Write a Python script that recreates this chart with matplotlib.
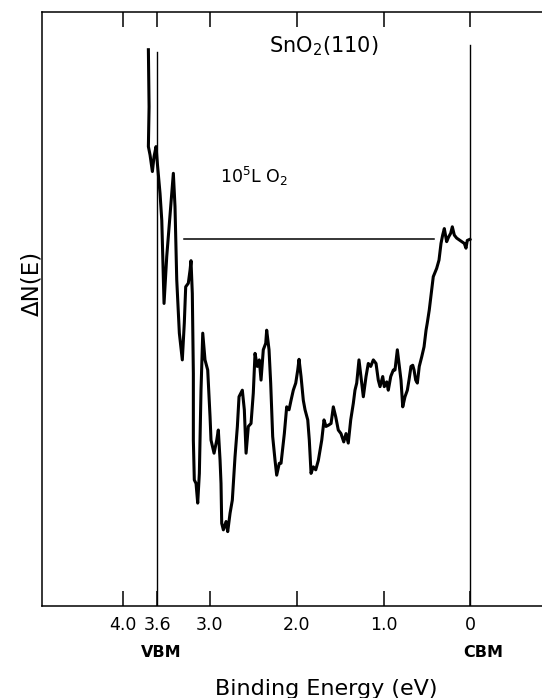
import numpy as np
import matplotlib
matplotlib.use("Agg")
import matplotlib.pyplot as plt

# binding energy (eV) and difference spectrum dN(E) in arbitrary units (0-100 full scale)
energy = [3.703, 3.695, 3.703, 3.684, 3.657, 3.638, 3.615, 3.600, 3.569, 3.549,
          3.523, 3.492, 3.446, 3.416, 3.397, 3.377, 3.347, 3.313, 3.290, 3.274,
          3.244, 3.224, 3.213, 3.198, 3.186, 3.186, 3.175, 3.155, 3.136, 3.117,
          3.098, 3.078, 3.052, 3.021, 2.994, 2.983, 2.948, 2.917, 2.899, 2.879,
          2.868, 2.860, 2.841, 2.810, 2.791, 2.764, 2.738, 2.707, 2.680, 2.661,
          2.623, 2.600, 2.580, 2.554, 2.523, 2.497, 2.477, 2.451, 2.428, 2.408,
          2.382, 2.354, 2.343, 2.316, 2.297, 2.274, 2.247, 2.228, 2.198, 2.178,
          2.140, 2.113, 2.086, 2.063, 2.037, 2.009, 1.986, 1.971, 1.948, 1.922,
          1.902, 1.871, 1.853, 1.833, 1.807, 1.779, 1.749, 1.710, 1.684, 1.661,
          1.634, 1.603, 1.577, 1.549, 1.520, 1.489, 1.457, 1.431, 1.405, 1.377,
          1.347, 1.328, 1.308, 1.282, 1.259, 1.232, 1.201, 1.175, 1.147, 1.117,
          1.086, 1.060, 1.040, 1.009, 0.991, 0.963, 0.945, 0.917, 0.887, 0.868,
          0.841, 0.818, 0.799, 0.779, 0.753, 0.726, 0.707, 0.684, 0.664, 0.649,
          0.630, 0.611, 0.589, 0.561, 0.534, 0.511, 0.497, 0.474, 0.446, 0.428,
          0.389, 0.362, 0.339, 0.320, 0.301, 0.274, 0.251, 0.228, 0.209, 0.186,
          0.159, 0.129, 0.101, 0.071, 0.052, 0.037, 0.006]
dN = [93.7, 84.1, 77.4, 76.0, 73.2, 75.7, 77.4, 74.6, 69.5, 65.0,
      51.0, 58.9, 67.3, 72.9, 67.3, 55.0, 46.0, 41.5, 47.7, 53.8,
      54.4, 56.6, 58.2, 52.7, 39.2, 28.0, 21.3, 20.7, 17.4, 22.4,
      36.4, 46.0, 41.5, 39.8, 31.9, 28.0, 25.8, 28.0, 29.7, 24.6,
      20.7, 14.0, 12.9, 14.3, 12.6, 15.7, 17.9, 25.2, 30.3, 35.3,
      36.4, 33.1, 25.8, 30.3, 30.8, 35.9, 42.6, 40.4, 41.5, 38.1,
      43.2, 44.3, 46.5, 43.2, 37.6, 28.6, 24.6, 22.1, 24.1, 24.1,
      29.1, 33.6, 33.1, 34.7, 36.4, 37.6, 39.8, 41.6, 38.7, 34.7,
      33.1, 31.4, 28.0, 22.4, 23.5, 23.0, 24.6, 28.0, 31.4, 30.3,
      30.5, 30.8, 33.6, 31.9, 29.7, 29.1, 27.7, 29.1, 27.5, 31.4,
      34.2, 36.4, 37.6, 41.5, 38.7, 35.3, 38.7, 40.9, 40.4, 41.5,
      40.9, 38.1, 37.0, 38.7, 37.0, 37.8, 36.4, 38.7, 39.8, 39.8,
      43.2, 40.4, 38.1, 33.6, 35.3, 36.4, 38.1, 40.4, 40.6, 39.8,
      38.1, 37.6, 40.4, 42.0, 43.7, 46.5, 47.7, 49.9, 53.3, 55.5,
      56.9, 58.3, 61.1, 62.5, 63.6, 61.4, 62.2, 62.8, 63.9, 62.5,
      62.0, 61.7, 61.4, 61.1, 60.3, 61.6, 61.8]

# reference level line and band edges
ref_level = 61.85
ref_start, ref_end = 3.29, 0.42
vbm, cbm = 3.6, 0.0
vbm_top, cbm_top = 93.3, 94.5

tick_pos = [4.0, 3.6, 3.0, 2.0, 1.0, 0.0]
tick_lab = ["4.0", "3.6", "3.0", "2.0", "1.0", "0"]

fig = plt.figure(figsize=(5.42, 6.98), dpi=100)
ax = fig.add_axes([0.077, 0.1311, 0.923, 0.8513])

ax.plot(energy, dN, color="black", lw=2.2, solid_joinstyle="round")
ax.plot([ref_start, ref_end], [ref_level, ref_level], color="black", lw=1.1)
ax.plot([vbm, vbm], [0, vbm_top], color="black", lw=1.0)
ax.plot([cbm, cbm], [0, cbm_top], color="black", lw=1.0)

ax.set_xlim(4.929, -0.822)
ax.set_ylim(0, 100)
ax.set_xticks(tick_pos)
ax.set_xticklabels(tick_lab, fontsize=12.5)
ax.set_yticks([])
ax.tick_params(axis="x", direction="in", length=11, width=1.1, top=True, pad=7)
for s in ["left", "bottom", "top"]:
    ax.spines[s].set_linewidth(1.1)
ax.spines["right"].set_visible(False)

ax.text(1.684, 94.3, "SnO$_2$(110)", fontsize=15, ha="center", va="center")
ax.text(2.49, 72.3, "10$^5$L O$_2$", fontsize=12.5, ha="center", va="center")

trans = ax.get_xaxis_transform()
ax.text(3.55, -0.077, "VBM", fontsize=11.5, fontweight="bold", ha="center", va="center", transform=trans)
ax.text(-0.15, -0.077, "CBM", fontsize=11.5, fontweight="bold", ha="center", va="center", transform=trans)

ax.set_xlabel("Binding Energy (eV)", fontsize=16)
ax.xaxis.set_label_coords(0.568, -0.139)
ax.xaxis.label.set_va("center")
ax.set_ylabel("ΔN(E)", fontsize=16.5)
ax.yaxis.set_label_coords(-0.0194, 0.544)
ax.yaxis.label.set_va("center")

fig.savefig("out.png", dpi=100)
